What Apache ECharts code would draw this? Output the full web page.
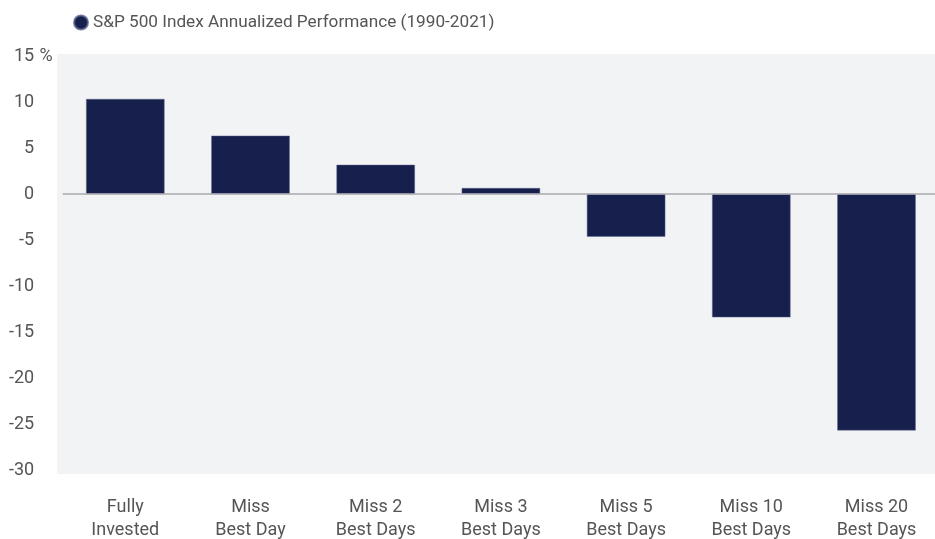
<!DOCTYPE html>
<html>
<head>
<meta charset="utf-8">
<script src="https://cdn.jsdelivr.net/npm/echarts@6/dist/echarts.min.js"></script>
<style>
html,body{margin:0;padding:0;background:#fff;}
#c{width:935px;height:539px;}
</style>
</head>
<body>
<div id="c"></div>
<script>
var categories = ['Fully\nInvested', 'Miss\nBest Day', 'Miss 2\nBest Days', 'Miss 3\nBest Days', 'Miss 5\nBest Days', 'Miss 10\nBest Days', 'Miss 20\nBest Days'];
var performance = [10.33, 6.34, 3.18, 0.65, -4.64, -13.41, -25.7];
var seriesName = 'S&P 500 Index Annualized Performance (1990-2021)';
var yMin = -30, yMax = 15, yStep = 5;

var chart = echarts.init(document.getElementById('c'));
chart.setOption({
  animation: false,
  textStyle: { fontFamily: 'Roboto' },
  graphic: [{
    type: 'rect', z: -10, silent: true,
    shape: { x: 57, y: 54, width: 878, height: 420 },
    style: { fill: '#f2f3f5' }
  }],
  legend: {
    left: 68, top: 9,
    icon: 'circle', itemWidth: 14, itemHeight: 14, itemGap: 5,
    textStyle: { fontSize: 17.2, color: '#555', fontFamily: 'Roboto', padding: [0, 0, 0, 0] },
    data: [seriesName]
  },
  grid: { left: 62.7, right: -4.1, top: 56, bottom: 69, outerBoundsMode: 'none', containLabel: false },
  xAxis: {
    type: 'category',
    data: categories,
    axisLine: { show: false, onZero: false },
    axisTick: { show: false },
    axisLabel: { margin: 26, fontSize: 18, lineHeight: 23, color: '#555', fontFamily: 'Roboto' }
  },
  yAxis: {
    type: 'value',
    min: yMin, max: yMax, interval: yStep,
    name: '%', nameLocation: 'end', nameGap: 0, nameMoveOverlap: false,
    nameTextStyle: { fontSize: 18, color: '#555', align: 'right', verticalAlign: 'middle', padding: [0, 10, 0, 0], fontFamily: 'Roboto' },
    axisLine: { show: false },
    axisTick: { show: false },
    splitLine: { show: false },
    axisLabel: { margin: 28.5, fontSize: 18, color: '#555', fontFamily: 'Roboto' }
  },
  series: [{
    name: seriesName,
    type: 'bar',
    data: performance,
    barWidth: 78.5,
    itemStyle: { color: '#17204c', borderColor: 'rgba(90,100,140,0.8)', borderWidth: 0.6 },
    markLine: {
      silent: true, symbol: 'none',
      label: { show: false },
      lineStyle: { color: '#a9a9ae', width: 1.6, type: 'solid' },
      data: [{ yAxis: 0 }]
    }
  }]
});
</script>
</body>
</html>
